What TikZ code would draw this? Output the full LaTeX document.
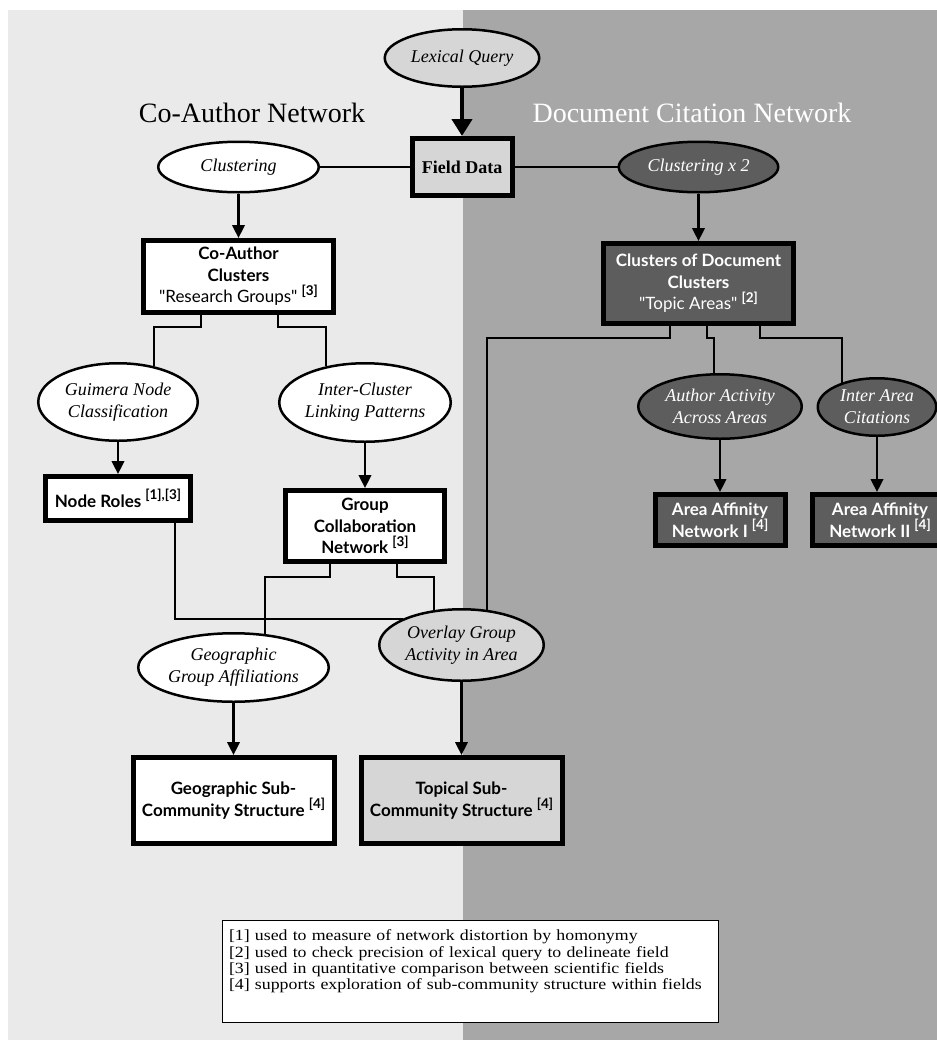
\documentclass[tikz,border=0pt]{standalone}
\usepackage{fontspec}
\setmainfont{Liberation Serif}
\newfontfamily\boxfont{Lato}
\newfontfamily\notefont{Liberation Serif}[FakeStretch=1.15]
\usepackage{tikz}
\usepackage{xcolor}
\usetikzlibrary{arrows.meta,shapes.geometric}

\definecolor{leftbg}{HTML}{EAEAEA}
\definecolor{rightbg}{HTML}{A7A7A7}
\definecolor{litenode}{HTML}{D6D6D6}
\definecolor{darknode}{HTML}{5D5D5D}
\newcommand{\refmark}[1]{\raisebox{0.45em}{\fontsize{13.5}{13.5}\selectfont\bfseries[#1]}}

\begin{document}
\begin{tikzpicture}[x=1pt,y=-1pt,
        oval/.style={ellipse,draw,line width=2.5pt,inner sep=0pt,align=center,font=\fontsize{18}{22}\selectfont\itshape},
        result/.style={rectangle,draw,line width=5pt,inner sep=0pt,align=center,font=\boxfont\fontsize{17}{21.5}\selectfont\bfseries},
        link/.style={line width=2.5pt},
        flow/.style={line width=2.5pt,-{Triangle[length=13pt,width=12.5pt]}}]
                \useasboundingbox (0,0) rectangle (937,1045);
                \fill[leftbg] (8,10) rectangle (463,1040);
                \fill[rightbg] (463,10) rectangle (937,1040);
                \node[font=\fontsize{28}{30}\selectfont] (lefttitle) at (252,113) {Co-Author Network};
                \node[font=\fontsize{28}{30}\selectfont,text=white] (righttitle) at (692,113) {Document Citation Network};
                \node[oval,fill=litenode,minimum width=154.5,minimum height=57.5] (lexical) at (462,58) {Lexical Query};
                \node[result,fill=litenode,minimum width=100,minimum height=57,font=\fontsize{18}{22}\selectfont\bfseries] (field) at (462,167) {Field Data};
                \node[oval,fill=white,minimum width=160.5,minimum height=50.5] (clusterA) at (238.5,167) {Clustering};
                \node[oval,fill=darknode,text=white,minimum width=159.5,minimum height=50.5] (clusterB) at (698.5,167) {Clustering x 2};
                \node[result,fill=white,minimum width=190,minimum height=72] (coauth) at (238.5,276.5) {Co-Author\\Clusters\\{\mdseries "Research Groups"} \refmark{3}};
                \node[result,fill=darknode,text=white,minimum width=190,minimum height=80] (docclus) at (698.5,283.5) {Clusters of Document\\Clusters\\{\mdseries "Topic Areas"} \refmark{2}};
                \node[oval,fill=white,minimum width=159.5,minimum height=77.5] (guimera) at (118,402) {Guimera Node\\Classification};
                \node[oval,fill=white,minimum width=171.5,minimum height=78.5] (intercl) at (365,402.5) {Inter-Cluster\\Linking Patterns};
                \node[result,fill=white,minimum width=145,minimum height=44] (roles) at (118,498.5) {Node Roles \refmark{1],[3}};
                \node[result,fill=white,minimum width=159,minimum height=71] (groupcol) at (365,526) {Group\\Collaboration\\Network \refmark{3}};
                \node[oval,fill=darknode,text=white,minimum width=163.5,minimum height=64.5] (author) at (720,406.5) {Author Activity\\Across Areas};
                \node[oval,fill=darknode,text=white,minimum width=118.5,minimum height=57.5] (interarea) at (877,407) {Inter Area\\Citations};
                \node[result,fill=darknode,text=white,minimum width=130,minimum height=51] (aff1) at (720,520) {Area Affinity\\Network I \refmark{4}};
                \node[result,fill=darknode,text=white,minimum width=136,minimum height=51] (aff2) at (880,520) {Area Affinity\\Network II \refmark{4}};
                \node[oval,fill=white,minimum width=190.5,minimum height=68.5] (geo) at (233.5,667.5) {Geographic\\Group Affiliations};
                \node[oval,fill=litenode,minimum width=164.5,minimum height=71.5] (overlay) at (461.5,645) {Overlay Group\\Activity in Area};
                \node[result,fill=white,minimum width=201,minimum height=86] (geosub) at (233.5,800.5) {Geographic Sub-\\Community Structure \refmark{4}};
                \node[result,fill=litenode,minimum width=201,minimum height=86] (topsub) at (461.5,800.5) {Topical Sub-\\Community Structure \refmark{4}};
                \node[draw,fill=white,line width=1pt,anchor=north,align=left,text width=482pt,inner xsep=7pt,inner ysep=10pt,text depth=71.5pt,font=\notefont\fontsize{15.5}{16.3}\selectfont] (notes) at (470,919.5) {[1] used to measure of network distortion by homonymy\\{}[2] used to check precision of lexical query to delineate field\\{}[3] used in quantitative comparison between scientific fields\\{}[4] supports exploration of sub-community structure within fields};
                \draw[line width=4.5pt,-{Triangle[length=17pt,width=20pt]}] (lexical) -- (field);
                \draw[link] (clusterA) -- (field);
                \draw[link] (field) -- (clusterB);
                \draw[flow] (clusterA) -- (coauth);
                \draw[flow] (clusterB) -- (docclus);
                \draw[link] ([xshift=-37.5]coauth.south) -- ++(0,12) -| (guimera.45);
                \draw[link] ([xshift=39.5]coauth.south) -- ++(0,12) -| (intercl.137);
                \draw[flow] (guimera) -- (roles);
                \draw[flow] (intercl) -- (groupcol);
                \draw[link] ([xshift=57]roles.south) |- (overlay.156);
                \draw[link] ([xshift=-35]groupcol.south) -- ++(0,13) -| (geo.47);
                \draw[link] ([xshift=32]groupcol.south) -- ++(0,13) -| (overlay.128);
                \draw[link] ([xshift=-28.5]docclus.south) -- ++(0,12) -| (overlay.54);
                \draw[link] ([xshift=8.5]docclus.south) -- ++(0,12) -| (author.100);
                \draw[link] ([xshift=61.5]docclus.south) -- ++(0,12) -| (interarea.145);
                \draw[flow] (author) -- (aff1);
                \draw[flow] (interarea) -- (interarea |- aff2.north);
                \draw[flow] (geo) -- (geosub);
                \draw[flow] (overlay) -- (topsub);
            \end{tikzpicture}
\end{document}
